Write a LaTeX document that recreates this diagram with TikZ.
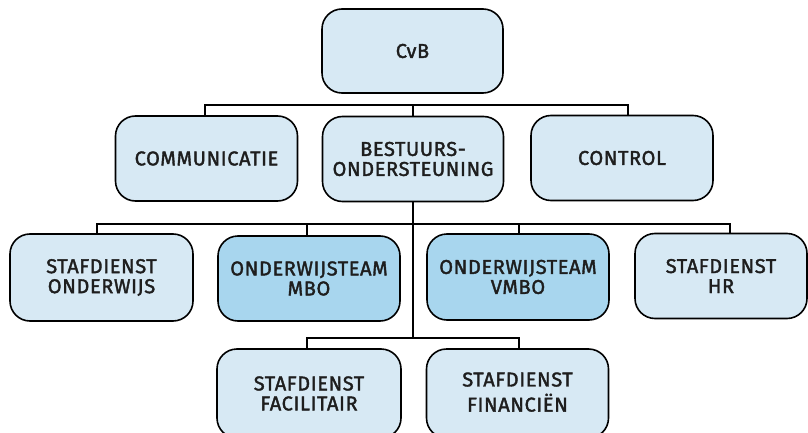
\documentclass[tikz,border=0pt]{standalone}
\usepackage{fontspec}
\newfontfamily\lbl{Fira Sans}[FakeBold=1.8,LetterSpace=3]
\definecolor{lightb}{RGB}{215,233,244}
\definecolor{darkb}{RGB}{168,214,238}
\definecolor{txt}{RGB}{30,30,30}
\tikzset{
  unit/.style={draw=black, line width=1.6pt, rounded corners=20pt, fill=lightb,
    align=center, font=\lbl\fontsize{20}{20}\selectfont, text=txt, inner sep=0pt,
    minimum width=182pt, minimum height=85pt},
  team/.style={unit, fill=darkb},
  link/.style={line width=1.4pt, draw=black}
}
\begin{document}
\begin{tikzpicture}[x=1pt,y=-1pt]
\useasboundingbox (0,0) rectangle (808,433);
% bus coordinates
\coordinate (b1l) at (205,105);
\coordinate (b1r) at (628,105);
\coordinate (b2l) at (97,224);
\coordinate (b2m) at (307,224);
\coordinate (b2v) at (519,224);
\coordinate (b2r) at (730,224);
\coordinate (b3l) at (307,338);
\coordinate (b3r) at (519,338);
% nodes
\node[unit, minimum width=181pt, minimum height=84pt] (cvb) at (412.5,51) {CvB};
\node[unit] (comm) at (206.5,158.5) {COMMUNICATIE};
\node[unit, minimum width=181pt] (best) at (413,159) {BESTUURS-\\ONDERSTEUNING};
\node[unit] (control) at (622,158) {CONTROL};
\node[unit, minimum width=183pt, minimum height=87pt] (ow) at (101.5,277.5) {STAFDIENST\\ONDERWIJS};
\node[team] (mbo) at (309,278.5) {ONDERWIJSTEAM\\MBO};
\node[team, minimum height=86pt] (vmbo) at (518,277) {ONDERWIJSTEAM\\VMBO};
\node[unit, minimum width=172pt] (hr) at (721,276) {STAFDIENST\\HR};
\node[unit, minimum width=184pt, minimum height=89pt] (fac) at (309,393.5) {STAFDIENST\\FACILITAIR};
\node[unit, minimum height=89pt] (fin) at (517.5,393.5) {\raisebox{3pt}{\shortstack{STAFDIENST\\[4pt]FINANCIËN}}};
% connectors
\draw[link] (comm.north -| b1l) -- (b1l) -- (b1r) -- (control.north -| b1r);
\draw[link] (best.north) -- (best.north |- b1l);
\draw[link] (best.south) -- (best.south |- b3l);
\draw[link] (ow.north -| b2l) -- (b2l) -- (b2r) -- (hr.north -| b2r);
\draw[link] (b2m) -- (mbo.north -| b2m);
\draw[link] (b2v) -- (vmbo.north -| b2v);
\draw[link] (fac.north -| b3l) -- (b3l) -- (b3r) -- (fin.north -| b3r);
\end{tikzpicture}
\end{document}
